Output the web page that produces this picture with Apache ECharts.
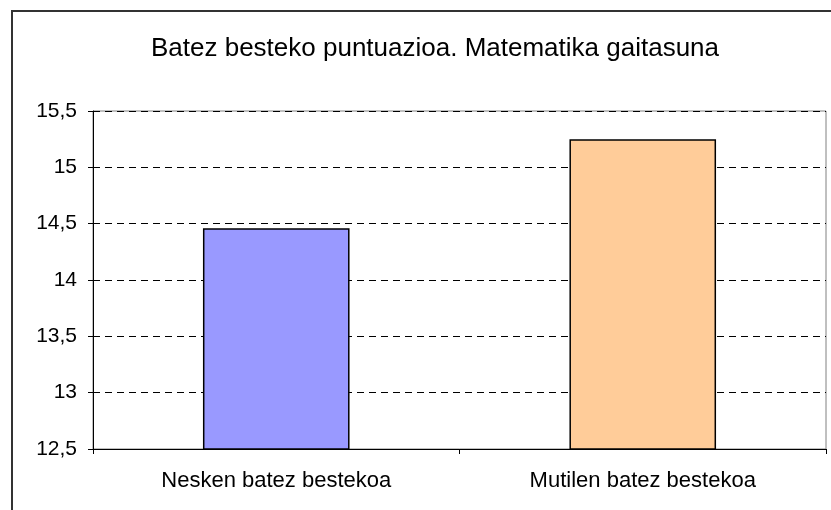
<!DOCTYPE html>
<html>
<head>
<meta charset="utf-8">
<script src="https://cdn.jsdelivr.net/npm/echarts@6/dist/echarts.min.js"></script>
<style>
  html, body { margin: 0; padding: 0; background: #fff; }
  #chart { width: 831px; height: 510px; }
</style>
</head>
<body>
<div id="chart"></div>
<script>
// datuak
var chartTitle = 'Batez besteko puntuazioa. Matematika gaitasuna';
var categories = ['Nesken batez bestekoa', 'Mutilen batez bestekoa'];
var values = [14.46, 15.25];
var barColors = ['#9999ff', '#ffcc99'];

var chart = echarts.init(document.getElementById('chart'));

var option = {
  animation: false,
  textStyle: { fontFamily: 'Liberation Sans, Arial, sans-serif' },
  title: {
    text: chartTitle,
    left: 430,
    textAlign: 'center',
    top: 31,
    textStyle: { fontSize: 26, fontWeight: 'normal', color: '#000' }
  },
  graphic: [{
    type: 'rect',
    shape: { x: 12, y: 11, width: 840, height: 520 },
    style: { fill: 'none', stroke: '#333', lineWidth: 2 },
    silent: true
  }],
  grid: {
    left: 93,
    right: 5,
    top: 111,
    bottom: 61,
    show: true,
    borderColor: '#808080',
    borderWidth: 1
  },
  xAxis: {
    type: 'category',
    data: categories,
    axisLine: { lineStyle: { color: '#000' } },
    axisTick: { show: true, length: 5, lineStyle: { color: '#000' } },
    axisLabel: { color: '#000', fontSize: 22, margin: 21 }
  },
  yAxis: {
    type: 'value',
    min: 12.5,
    max: 15.5,
    interval: 0.5,
    axisLine: { show: true, lineStyle: { color: '#000' } },
    axisTick: { show: true, length: 5, lineStyle: { color: '#000' } },
    axisLabel: {
      color: '#000',
      fontSize: 21,
      margin: 16,
      formatter: function (v) { return String(v).replace('.', ','); }
    },
    splitLine: { lineStyle: { color: '#000', type: [7, 5], width: 1 } }
  },
  series: [{
    type: 'bar',
    barWidth: '40%',
    data: values.map(function (v, i) {
      return { value: v, itemStyle: { color: barColors[i] } };
    }),
    itemStyle: { borderColor: '#000', borderWidth: 1.5 }
  }]
};

chart.setOption(option);
</script>
</body>
</html>
